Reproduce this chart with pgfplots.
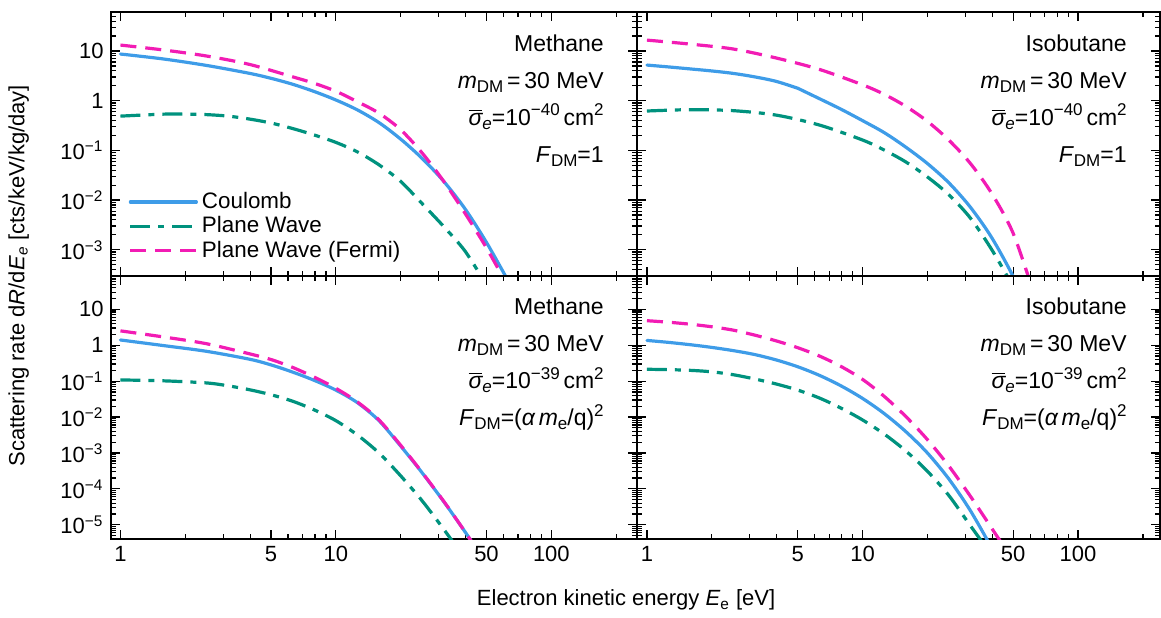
\documentclass[border=0pt]{standalone}
\usepackage{pgfplots}
\pgfplotsset{compat=1.18}
\usepgfplotslibrary{groupplots}
\usepackage{fontspec}
\setmainfont{Liberation Sans}
\definecolor{cblue}{HTML}{3E9CE8}
\definecolor{cteal}{HTML}{00927E}
\definecolor{cmag}{HTML}{F21CB4}
\newcommand{\sub}[1]{\raisebox{-0.3ex}{\fontsize{8.5}{8.5}\selectfont #1}}
\newcommand{\sups}[1]{\raisebox{0.8ex}{\fontsize{8.5}{8.5}\selectfont #1}}
\pgfplotsset{
  coul/.style={cblue, line width=1.6pt, smooth, tension=0.5, line cap=round},
  pw/.style={cteal, line width=1.6pt, dash pattern=on 10pt off 4pt on 3pt off 4pt, smooth, tension=0.5},
  pwf/.style={cmag, line width=1.6pt, dash pattern=on 8pt off 4.5pt, smooth, tension=0.5},
  toprow/.style={ymin=3e-4, ymax=60, ytick={1e-3,1e-2,1e-1,1,10},
    minor ytick={3e-4,4e-4,5e-4,6e-4,7e-4,8e-4,9e-4,2e-3,3e-3,4e-3,5e-3,6e-3,7e-3,8e-3,9e-3,0.02,0.03,0.04,0.05,0.06,0.07,0.08,0.09,0.2,0.3,0.4,0.5,0.6,0.7,0.8,0.9,2,3,4,5,6,7,8,9,20,30,40,50,60},
    xticklabels={}},
  botrow/.style={ymin=4e-6, ymax=86, ytick={1e-5,1e-4,1e-3,1e-2,1e-1,1,10},
    minor ytick={5e-6,6e-6,7e-6,8e-6,9e-6,2e-5,3e-5,4e-5,5e-5,6e-5,7e-5,8e-5,9e-5,2e-4,3e-4,4e-4,5e-4,6e-4,7e-4,8e-4,9e-4,2e-3,3e-3,4e-3,5e-3,6e-3,7e-3,8e-3,9e-3,0.02,0.03,0.04,0.05,0.06,0.07,0.08,0.09,0.2,0.3,0.4,0.5,0.6,0.7,0.8,0.9,2,3,4,5,6,7,8,9,20,30,40,50,60,70,80}},
}
\tikzset{annot/.style={anchor=north east, align=right, font=\fontsize{11.5}{18.5}\selectfont, inner sep=0pt}}
\begin{document}
\begin{tikzpicture}
\begin{groupplot}[group style={group size=2 by 2, horizontal sep=0pt, vertical sep=0pt},
  scale only axis, height=131.7pt,
  xmode=log, ymode=log, xmin=0.9,
  xtick={1,5,10,50,100}, xticklabels={1,5,10,50,100},
  minor xtick={2,3,4,6,7,8,9,20,30,40,60,70,80,90,200},
  axis line style={line width=1pt},
  tick style={black, line width=0.6pt},
  major tick length=4.5pt, minor tick length=2.5pt,
  tick label style={font=\fontsize{11}{13}\selectfont},
  legend cell align=left,
]
% ---------- top left: Methane, F=1
\nextgroupplot[toprow, width=263.3pt, xmax=250,
  yticklabels={10\textsuperscript{−3},10\textsuperscript{−2},10\textsuperscript{−1},1,10},
  legend style={at={(0.03,0.035)}, anchor=south west, draw=none, fill=none,
    font=\fontsize{11.2}{13}\selectfont, row sep=-1.5pt, inner sep=1pt},
  legend image code/.code={\draw[#1] (0pt,0pt) -- (33pt,0pt);},
]
\addplot[coul] coordinates {(1,8.71)(1.585,6.92)(2.512,5.13)(3.981,3.55)(5.012,2.82)(6.31,2.14)(7.943,1.53)(10,1.035)(12.59,0.653)(15.85,0.363)(19.95,0.17)(25.12,0.0692)(31.62,0.024)(39.81,6.61e-3)(50.12,1.38e-3)(63.1,2.34e-4)};
\addlegendentry{Coulomb}
\addplot[pw] coordinates {(1,0.49)(1.585,0.537)(1.995,0.537)(2.512,0.525)(3.162,0.49)(3.981,0.427)(5.012,0.355)(6.31,0.275)(7.943,0.204)(10,0.145)(12.59,0.0933)(15.85,0.0513)(19.95,0.024)(25.12,8.51e-3)(31.62,2.95e-3)(39.81,9.33e-4)(50.12,1.91e-4)};
\addlegendentry{Plane Wave}
\addplot[pwf] coordinates {(1,13.2)(1.585,10.5)(2.512,7.94)(3.981,5.37)(6.31,3.02)(7.943,2.24)(10,1.55)(12.59,0.955)(15.85,0.562)(19.95,0.263)(25.12,0.0891)(31.62,0.024)(39.81,5.37e-3)(50.12,1.07e-3)(63.1,1.78e-4)};
\addlegendentry{Plane Wave (Fermi)}
\node[annot] at ([xshift=-16.5pt,yshift=-11pt]rel axis cs:1,1) {Methane\\
\textit{m}\sub{DM}\,=\,30 MeV\\
$\overline{\mbox{\itshape σ}}$\sub{\textit{e}}=10\sups{−40}\,cm\sups{2}\\
\textit{F}\sub{DM}=1};
% ---------- top right: Isobutane, F=1
\nextgroupplot[toprow, width=261.5pt, xmax=240, yticklabels={}]
\addplot[coul] coordinates {(1,5.22)(1.259,4.79)(1.585,4.37)(1.995,3.98)(2.512,3.55)(3.162,3.02)(3.981,2.45)(5.012,1.78)};
\addplot[coul] coordinates {(5.012,1.78)(6.31,1.10)(7.943,0.676)(10,0.398)(12.59,0.229)(15.85,0.117)(19.95,0.055)(25.12,0.0224)(31.62,7.24e-3)(39.81,1.74e-3)(50.12,2.82e-4)(56,8e-5)};
\addplot[pw] coordinates {(1,0.621)(1.585,0.661)(2.512,0.631)(3.981,0.513)(6.31,0.324)(10,0.162)(12.59,0.102)(15.85,0.0589)(19.95,0.0295)(25.12,0.0129)(31.62,4.37e-3)(39.81,1e-3)(50.12,1.78e-4)};
\addplot[pwf] coordinates {(1,16.6)(1.585,13.8)(2.512,11.0)(3.981,7.24)(6.31,4.27)(10,2.09)(12.59,1.35)(15.85,0.776)(19.95,0.389)(25.12,0.162)(31.62,0.055)(39.81,0.0135)(50.12,2.09e-3)(63.1,1.12e-4)};
\node[annot] at ([xshift=-16.5pt,yshift=-11pt]rel axis cs:1,1) {Isobutane\\
\textit{m}\sub{DM}\,=\,30 MeV\\
$\overline{\mbox{\itshape σ}}$\sub{\textit{e}}=10\sups{−40}\,cm\sups{2}\\
\textit{F}\sub{DM}=1};
% ---------- bottom left: Methane, F=(alpha m/q)^2
\nextgroupplot[botrow, width=263.3pt, xmax=250,
  yticklabels={10\textsuperscript{−5},10\textsuperscript{−4},10\textsuperscript{−3},10\textsuperscript{−2},10\textsuperscript{−1},1,10}]
\addplot[coul] coordinates {(1,1.40)(1.585,0.977)(2.512,0.676)(3.981,0.407)(5.012,0.282)(6.31,0.178)(7.943,0.105)(10,0.0562)(12.59,0.0251)(15.85,7.94e-3)(19.95,1.58e-3)(25.12,2.82e-4)(31.62,4.47e-5)(39.81,6.31e-6)(50.12,7.94e-7)};
\addplot[pw] coordinates {(1,0.108)(1.585,0.102)(2.512,0.0891)(3.162,0.0741)(3.981,0.0575)(5.012,0.0417)(6.31,0.0275)(7.943,0.0158)(10,7.94e-3)(12.59,3.16e-3)(15.85,1e-3)(19.95,2.34e-4)(25.12,4.68e-5)(31.62,7.59e-6)(39.81,1.12e-6)};
\addplot[pwf] coordinates {(1,2.51)(1.585,1.70)(2.512,1.10)(3.981,0.575)(5.012,0.398)(6.31,0.240)(7.943,0.129)(10,0.0631)(12.59,0.0263)(15.85,8.32e-3)(19.95,1.66e-3)(25.12,2.88e-4)(31.62,4.57e-5)(39.81,6.31e-6)(50.12,7.94e-7)};
\node[annot] at ([xshift=-16.5pt,yshift=-11pt]rel axis cs:1,1) {Methane\\
\textit{m}\sub{DM}\,=\,30 MeV\\
$\overline{\mbox{\itshape σ}}$\sub{\textit{e}}=10\sups{−39}\,cm\sups{2}\\
\textit{F}\sub{DM}=(\textit{α\,m}\sub{e}/q)\sups{2}};
% ---------- bottom right: Isobutane
\nextgroupplot[botrow, width=261.5pt, xmax=240, yticklabels={}]
\addplot[coul] coordinates {(1,1.36)(1.259,1.20)(1.585,1.035)(1.995,0.871)(2.512,0.708)(3.162,0.550)(3.981,0.389)(5.012,0.251)(6.31,0.145)(7.943,0.0741)(10,0.0331)(12.59,0.0126)(15.85,3.98e-3)(19.95,1.02e-3)(25.12,1.91e-4)(31.62,2.51e-5)(39.81,2.24e-6)};
\addplot[pw] coordinates {(1,0.214)(1.259,0.209)(1.585,0.2)(1.995,0.182)(2.512,0.151)(3.162,0.115)(3.981,0.0832)(5.012,0.0562)(6.31,0.0339)(7.943,0.0178)(10,8.32e-3)(12.59,3.39e-3)(15.85,1.15e-3)(19.95,3.16e-4)(25.12,6.61e-5)(31.62,9.55e-6)(39.81,1.41e-6)};
\addplot[pwf] coordinates {(1,4.82)(1.259,4.37)(1.585,3.85)(1.995,3.27)(2.512,2.63)(3.162,1.91)(3.981,1.32)(5.012,0.851)(6.31,0.501)(7.943,0.257)(10,0.112)(12.59,0.038)(15.85,0.0105)(19.95,2.4e-3)(25.12,4.37e-4)(31.62,6.31e-5)(39.81,7.94e-6)(50.12,1e-6)};
\node[annot] at ([xshift=-16.5pt,yshift=-11pt]rel axis cs:1,1) {Isobutane\\
\textit{m}\sub{DM}\,=\,30 MeV\\
$\overline{\mbox{\itshape σ}}$\sub{\textit{e}}=10\sups{−39}\,cm\sups{2}\\
\textit{F}\sub{DM}=(\textit{α\,m}\sub{e}/q)\sups{2}};
\end{groupplot}
\node[rotate=90, font=\fontsize{11}{13}\selectfont] at ([xshift=-46pt]group c1r1.south west) {Scattering rate d\textit{R}/d\textit{E}\textsubscript{\textit{e}} [cts/keV/kg/day]};
\node[font=\fontsize{11}{13}\selectfont] at ([xshift=-5.5pt,yshift=-30.5pt]group c1r2.south east) {Electron kinetic energy \textit{E}\textsubscript{e} [eV]};
\path ([yshift=6.2pt]group c1r1.north west);
\path ([xshift=-55.3pt,yshift=-36.5pt]group c1r2.south west);
\end{tikzpicture}
\end{document}
